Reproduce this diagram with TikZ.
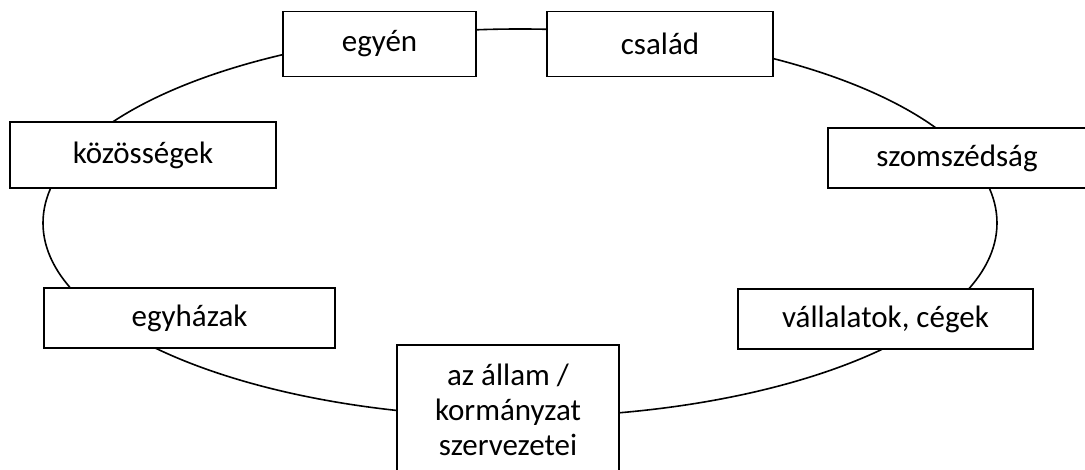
\documentclass[tikz,border=0pt]{standalone}
\usepackage{fontspec}
\setmainfont{Carlito}
\begin{document}
\begin{tikzpicture}[x=1pt,y=-1pt,
  box/.style={draw=black, line width=1.8pt, fill=white, rectangle, inner sep=0pt,
    font=\fontsize{31}{35}\selectfont, align=center},
  ring/.style={draw=black, line width=1.6pt}]
\useasboundingbox (0,0) rectangle (1085,470);
\begin{scope}
\clip (0,0) rectangle (1085,470);
\draw[ring] (520,223) ellipse [x radius=477, y radius=194];
\node[box, minimum width=193pt, minimum height=65pt] (egyen) at (379.5,44) {egyén};
\node[box, minimum width=226pt, minimum height=65pt] (csalad) at (660,44) {család};
\node[box, minimum width=266pt, minimum height=66pt] (kozossegek) at (143,155) {közösségek};
\node[box, minimum width=258pt, minimum height=60pt] (szomszedsag) at (957,158) {szomszédság};
\node[box, minimum width=291pt, minimum height=60pt] (egyhazak) at (189.5,318) {egyházak};
\node[box, minimum width=295pt, minimum height=60pt] (vallalatok) at (885.5,319) {vállalatok, cégek};
\node[box, minimum width=222pt, minimum height=130pt] (allam) at (508,410) {az állam /\\kormányzat\\szervezetei};
\end{scope}
\end{tikzpicture}
\end{document}
